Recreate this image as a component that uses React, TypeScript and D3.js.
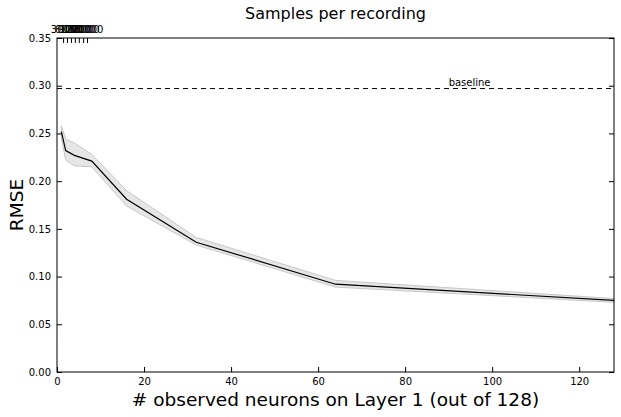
import { useEffect, useRef } from "react";
import * as d3 from "d3";

const neurons = [1, 2, 4, 8, 16, 32, 64, 128];
const rmse = [0.252, 0.232, 0.227, 0.221, 0.181, 0.136, 0.092, 0.075];
const lower = [0.245, 0.222, 0.216, 0.215, 0.174, 0.133, 0.089, 0.073];
const upper = [0.258, 0.244, 0.24, 0.228, 0.19, 0.141, 0.096, 0.077];
const baseline = 0.297;
const xTicks = [0, 20, 40, 60, 80, 100, 120];
const yTicks = [0, 0.05, 0.1, 0.15, 0.2, 0.25, 0.3, 0.35];
const topTicks = [1.4, 2.3, 3.2, 4.1, 5.0, 6.0, 6.9];
const topLabels = ["3000", "6000", "9000", "12000", "15000", "18000", "21000"];

export default function App() {
  const svgRef = useRef<SVGSVGElement>(null);

  useEffect(() => {
    if (!svgRef.current) return;
    const svg = d3.select(svgRef.current);
    svg.selectAll("*").remove();

    const margin = { top: 38, right: 7, bottom: 45, left: 57 };
    const W = 621, H = 417;
    const w = W - margin.left - margin.right;
    const h = H - margin.top - margin.bottom;
    const font = "DejaVu Sans";

    const g = svg.append("g").attr("transform", `translate(${margin.left},${margin.top})`);
    const x = d3.scaleLinear().domain([0, 128]).range([0, w]);
    const y = d3.scaleLinear().domain([0, 0.35]).range([h, 0]);

    const area = d3.area<number>()
      .x((_, i) => x(neurons[i]))
      .y0((_, i) => y(lower[i]))
      .y1((_, i) => y(upper[i]));
    g.append("path").datum(rmse).attr("d", area)
      .attr("fill", "#e6e6e6").attr("stroke", "#c8c8c8").attr("stroke-width", 1);

    const line = d3.line<number>().x((_, i) => x(neurons[i])).y((d) => y(d));
    g.append("path").datum(rmse).attr("d", line)
      .attr("fill", "none").attr("stroke", "#000").attr("stroke-width", 1.2);

    g.append("line").attr("x1", 0).attr("x2", w).attr("y1", y(baseline)).attr("y2", y(baseline))
      .attr("stroke", "#000").attr("stroke-dasharray", "5,4");
    g.append("text").attr("x", x(90)).attr("y", y(baseline) - 3)
      .attr("font-family", font).attr("font-size", 10).text("baseline");

    g.append("rect").attr("width", w).attr("height", h)
      .attr("fill", "none").attr("stroke", "#000");

    const style = (sel: any) => {
      sel.select(".domain").remove();
      sel.selectAll("text").attr("font-family", font).attr("font-size", 10).attr("fill", "#000");
      sel.selectAll("line").attr("stroke", "#000");
    };

    g.append("g").attr("transform", `translate(0,${h})`)
      .call(d3.axisBottom(x).tickValues(xTicks).tickSizeInner(-5).tickSizeOuter(0).tickPadding(6))
      .call(style);
    g.append("g").attr("transform", `translate(${w},0)`)
      .call(d3.axisLeft(y).tickValues(yTicks).tickSizeInner(5).tickSizeOuter(0).tickFormat(() => ""))
      .call(style);
    g.append("g")
      .call(d3.axisLeft(y).tickValues(yTicks).tickSizeInner(-5).tickSizeOuter(0).tickPadding(6)
        .tickFormat(d3.format(".2f")))
      .call(style);
    g.append("g")
      .call(d3.axisTop(x).tickValues(topTicks).tickSizeInner(-5).tickSizeOuter(0).tickPadding(5)
        .tickFormat((_, i) => topLabels[i]))
      .call(style);

    svg.append("text").attr("x", margin.left + w / 2).attr("y", 19).attr("text-anchor", "middle")
      .attr("font-family", font).attr("font-size", 16).text("Samples per recording");
    svg.append("text").attr("x", margin.left + w / 2).attr("y", 406).attr("text-anchor", "middle")
      .attr("font-family", font).attr("font-size", 18.5).text("# observed neurons on Layer 1 (out of 128)");
    svg.append("text").attr("transform", `translate(23,${margin.top + h / 2}) rotate(-90)`)
      .attr("text-anchor", "middle").attr("font-family", font).attr("font-size", 18.5).text("RMSE");
  }, []);

  return (
    <svg ref={svgRef} width={621} height={417}
      style={{ position: "absolute", left: 0, top: 0, background: "#fff" }} />
  );
}
